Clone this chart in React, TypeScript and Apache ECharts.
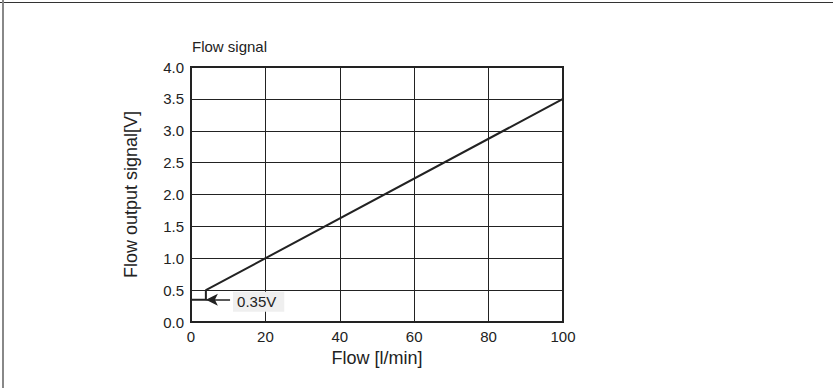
import React, { useEffect, useRef } from "react";
import * as echarts from "echarts";

const titleText = "Flow signal";
const xName = "Flow [l/min]";
const yName = "Flow output signal[V]";
const curveFlow = [0, 4, 4, 100];
const curveSignal = [0.35, 0.35, 0.5, 3.5];
const arrowFlow = [10.5, 4];
const arrowSignal = [0.35, 0.35];
const annotationText = "0.35V";

const FONT = "'Liberation Sans', Arial, sans-serif";
const INK = "#222";

export default function App() {
  const ref = useRef<HTMLDivElement>(null);
  useEffect(() => {
    if (!ref.current) return;
    const chart = echarts.init(ref.current, null, { renderer: "svg" });
    chart.setOption({
      animation: false,
      backgroundColor: "#fff",
      textStyle: { fontFamily: FONT, color: INK },
      title: {
        text: titleText,
        left: 187,
        top: 34,
        textStyle: { fontFamily: FONT, fontSize: 15, fontWeight: "normal", color: INK },
      },
      graphic: {
        elements: [
          { type: "line", z: 100, shape: { x1: 0, y1: 2.5, x2: 833, y2: 2.5 }, style: { stroke: "#333", lineWidth: 1 } },
          { type: "line", z: 100, shape: { x1: 3, y1: 0, x2: 3, y2: 388 }, style: { stroke: "#888", lineWidth: 2 } },
        ],
      },
      grid: {
        left: 191,
        right: 270,
        top: 67,
        bottom: 66,
        show: true,
        borderColor: INK,
        borderWidth: 2,
        containLabel: false,
      },
      xAxis: {
        type: "value",
        min: 0,
        max: 100,
        interval: 20,
        name: xName,
        nameLocation: "middle",
        nameGap: 24,
        nameTextStyle: { fontFamily: FONT, fontSize: 18, color: INK },
        axisLine: { show: true, lineStyle: { color: INK, width: 2 } },
        axisTick: { show: false },
        axisLabel: { fontFamily: FONT, fontSize: 15, color: INK, margin: 7 },
        splitLine: { show: true, lineStyle: { color: INK, width: 1 } },
      },
      yAxis: {
        type: "value",
        min: 0,
        max: 4,
        interval: 0.5,
        name: yName,
        nameLocation: "middle",
        nameGap: 51,
        nameRotate: 90,
        nameTextStyle: { fontFamily: FONT, fontSize: 18, color: INK },
        axisLine: { show: true, lineStyle: { color: INK, width: 2 } },
        axisTick: { show: false },
        axisLabel: {
          fontFamily: FONT,
          fontSize: 15,
          color: INK,
          margin: 7,
          formatter: (v: number) => v.toFixed(1),
        },
        splitLine: { show: true, lineStyle: { color: INK, width: 1 } },
      },
      series: [
        {
          type: "line",
          data: curveFlow.map((f, i) => [f, curveSignal[i]]),
          showSymbol: false,
          symbol: "none",
          lineStyle: { color: INK, width: 2 },
          z: 3,
        },
        {
          type: "line",
          data: [],
          markLine: {
            silent: true,
            symbol: ["none", "arrow"],
            symbolSize: [9, 12],
            lineStyle: { color: INK, width: 1.5, type: "solid" },
            label: {
              show: true,
              position: "start",
              formatter: annotationText,
              fontFamily: FONT,
              fontSize: 15,
              color: INK,
              backgroundColor: "#efefef",
              padding: [3, 8, 2, 4],
              distance: 3,
              offset: [0, 2],
            },
            data: [
              [
                { coord: [arrowFlow[0], arrowSignal[0]] },
                { coord: [arrowFlow[1], arrowSignal[1]] },
              ],
            ],
          },
        },
      ],
    });
    return () => chart.dispose();
  }, []);
  return (
    <div
      ref={ref}
      style={{ position: "absolute", left: 0, top: 0, width: 833, height: 388 }}
    />
  );
}
